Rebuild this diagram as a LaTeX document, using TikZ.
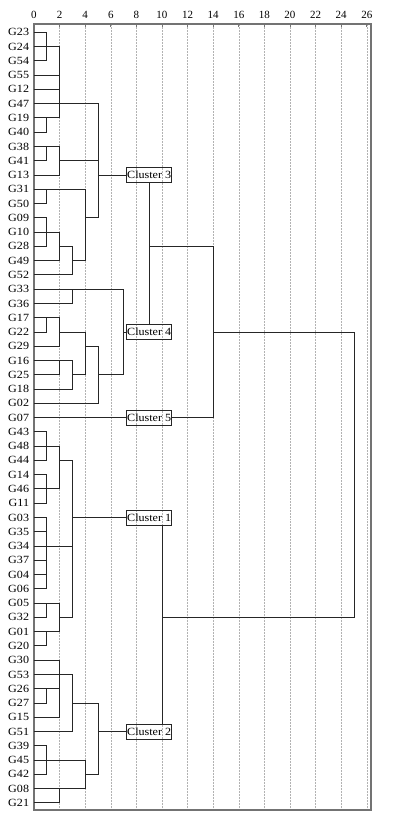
\documentclass[tikz,border=0pt]{standalone}
\usepackage{fontspec}
\setmainfont{Liberation Serif}
\newfontfamily\lblfont[FakeStretch=1.1]{Liberation Serif}
\usetikzlibrary{calc}

\begin{document}
\begin{tikzpicture}[x=12.8pt, y=14.27pt,
        leaf/.style={anchor=east, inner sep=0pt, font=\lblfont\fontsize{11}{13}\selectfont},
        clbox/.style={draw, black!85, line width=0.9pt, inner sep=0pt, minimum width=45pt,
            minimum height=15pt, text=black, font=\lblfont\fontsize{11}{13}\selectfont},
        tree/.style={line width=0.9pt, black!85}]
        \useasboundingbox (-2.656,1.2635) rectangle (28.125,-56.2);
        % grid and axis
        \foreach \d in {2,4,...,26}
            \draw[black!30, line width=0.5pt, densely dotted] (\d,-0.418) -- (\d,-55.5);
        \foreach \d in {0,2,...,26} {
            \draw[black!55, line width=0.8pt] (\d,-0.418) -- (\d,-0.63);
            \node[anchor=base, inner sep=0pt, font=\fontsize{11}{13}\selectfont] at (\d,0) {\d};
        }
        \draw[black!55, line width=1.3pt] (0,-0.418) rectangle (26.33,-55.5);
        % leaves
        \foreach \name [count=\r] in {G23,G24,G54,G55,G12,G47,G19,G40,G38,G41,G13,G31,G50,G09,
                G10,G28,G49,G52,G33,G36,G17,G22,G29,G16,G25,G18,G02,G07,G43,G48,G44,G14,G46,
                G11,G03,G35,G34,G37,G04,G06,G05,G32,G01,G20,G30,G53,G26,G27,G15,G51,G39,G45,
                G42,G08,G21} {
            \node[leaf] (\name) at (-0.37,-\r) {\name};
            \coordinate (l\name) at (0,-\r);
        }
        % clusters
        \node[clbox] (cl3) at (9,-11) {Cluster 3};
        \node[clbox] (cl4) at (9,-22) {Cluster 4};
        \node[clbox] (cl5) at (9,-28) {Cluster 5};
        \node[clbox] (cl1) at (9,-35) {Cluster 1};
        \node[clbox] (cl2) at (9,-50) {Cluster 2};
        \begin{scope}[tree]
        % cluster 3
        \draw (lG23) -- ++(1,0) |- (lG54);
        \draw (lG24) -- ++(2,0) |- (lG19);
        \draw (lG55) -- ++(2,0);
        \draw (lG12) -- ++(2,0);
        \draw (lG19) -- ++(1,0) |- (lG40);
        \draw (lG47) -- ++(5,0) |- ($(lG09)+(4,0)$);
        \draw (lG38) -- ++(2,0) |- (lG13);
        \draw (lG38) -- ++(1,0) |- (lG41);
        \draw ($(lG41)+(2,0)$) -- ++(3,0);
        \draw ($(lG13)+(5,0)$) -- (cl3);
        \draw (lG31) -- ++(4,0) |- ($(lG49)+(3,0)$);
        \draw (lG31) -- ++(1,0) |- (lG50);
        \draw (lG09) -- ++(1,0) |- (lG28);
        \draw (lG10) -- ++(2,0) |- (lG49);
        \draw ($(lG28)+(2,0)$) -- ++(1,0) |- (lG52);
        % cluster 4
        \draw (lG33) -- ++(7,0) |- ($(lG25)+(5,0)$);
        \draw (lG33) -- ++(3,0) |- (lG36);
        \draw (lG17) -- ++(2,0) |- (lG29);
        \draw (lG17) -- ++(1,0) |- (lG22);
        \draw ($(lG22)+(2,0)$) -- ++(2,0) |- ($(lG25)+(3,0)$);
        \draw ($(lG29)+(4,0)$) -- ++(1,0) |- (lG02);
        \draw (lG16) -- ++(3,0) |- (lG18);
        \draw (lG16) -- ++(2,0) |- (lG25);
        \draw ($(lG22)+(7,0)$) -- (cl4);
        % cluster 5
        \draw (lG07) -- (cl5);
        % cluster 1
        \draw (lG43) -- ++(1,0) |- (lG44);
        \draw (lG48) -- ++(2,0) |- (lG46);
        \draw (lG14) -- ++(1,0) |- (lG11);
        \draw ($(lG44)+(2,0)$) -- ++(1,0) |- ($(lG32)+(2,0)$);
        \draw (lG03) -- ++(1,0) |- (lG06);
        \draw (lG35) -- ++(1,0);
        \draw (lG37) -- ++(1,0);
        \draw (lG04) -- ++(1,0);
        \draw (lG34) -- ++(3,0);
        \draw (lG05) -- ++(2,0) |- (lG01);
        \draw (lG05) -- ++(1,0) |- (lG32);
        \draw (lG01) -- ++(1,0) |- (lG20);
        \draw ($(lG03)+(3,0)$) -- (cl1);
        % cluster 2
        \draw (lG30) -- ++(2,0) |- (lG15);
        \draw (lG26) -- ++(2,0);
        \draw (lG26) -- ++(1,0) |- (lG27);
        \draw (lG53) -- ++(3,0) |- (lG51);
        \draw ($(lG27)+(3,0)$) -- ++(2,0) |- ($(lG42)+(4,0)$);
        \draw (lG39) -- ++(1,0) |- (lG42);
        \draw (lG45) -- ++(4,0) |- (lG08);
        \draw (lG08) -- ++(2,0) |- (lG21);
        \draw ($(lG51)+(5,0)$) -- (cl2);
        % joining the clusters
        \draw (cl3) -- (cl4);
        \draw ($(lG28)+(9,0)$) -- ++(5,0) |- (cl5);
        \draw ($(lG22)+(14,0)$) -- ++(11,0) |- ($(lG32)+(10,0)$);
        \draw ($(cl1.south)+(1,0)$) -- ($(cl2.north)+(1,0)$);
        \end{scope}
    \end{tikzpicture}
\end{document}
